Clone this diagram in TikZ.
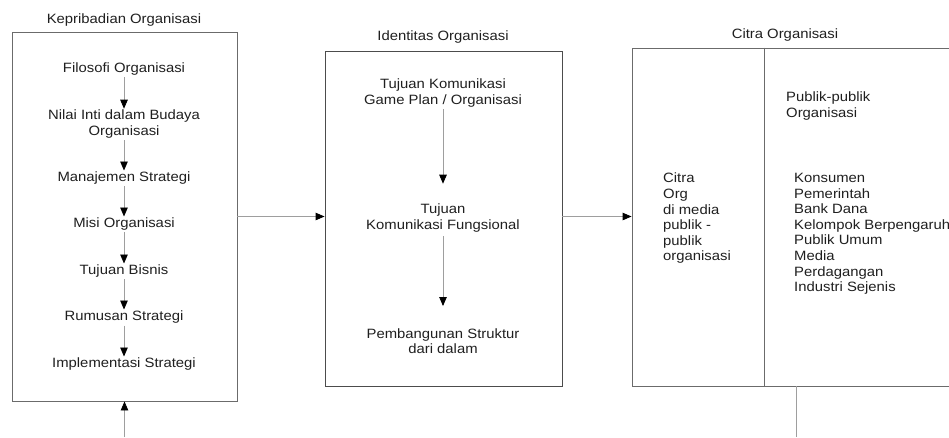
\documentclass[tikz,border=0pt]{standalone}
\usepackage{fontspec}
\setmainfont{Liberation Sans}[FakeStretch=1.1]
\usetikzlibrary{arrows.meta}
\begin{document}
\begin{tikzpicture}[x=1pt,y=-1pt,
  txt/.style={font=\fontsize{13.5}{15.6}\selectfont, inner sep=0pt, align=center, text=black!88},
  ltxt/.style={txt, align=left},
  boxline/.style={draw=black!58, line width=0.9pt, inner sep=0pt},
  conn/.style={draw=black!38, line width=0.9pt},
  arr/.style={conn, -{Triangle[length=9pt,width=7.5pt,color=black]}}]
\useasboundingbox (0,0) rectangle (949,437);

% Box 1
\node[boxline, minimum width=225pt, minimum height=369pt] (box1) at (124.5,216.5) {};
\node[txt] (t1) at (124,20) {Kepribadian Organisasi};
\node[txt] (a1) at (124,69) {Filosofi Organisasi};
\node[txt] (a2) at (124,124) {Nilai Inti dalam Budaya\\Organisasi};
\node[txt] (a3) at (124,178) {Manajemen Strategi};
\node[txt] (a4) at (124,224) {Misi Organisasi};
\node[txt] (a5) at (124,271) {Tujuan Bisnis};
\node[txt] (a6) at (124,317) {Rumusan Strategi};
\node[txt] (a7) at (124,364) {Implementasi Strategi};
\foreach \u/\v in {a1/a2,a2/a3,a3/a4,a4/a5,a5/a6,a6/a7}
  \draw[arr, shorten <=2pt, shorten >=1pt] (\u) -- (\v);
\coordinate (b1) at (124.5,437);
\draw[arr] (b1) -- (box1.south);

% Box 2
\node[boxline, draw=black!70, minimum width=237pt, minimum height=335pt] (box2) at (443.5,218.5) {};
\node[txt] (t2) at (443,37) {Identitas Organisasi};
\node[txt] (c1) at (443,93) {Tujuan Komunikasi\\Game Plan / Organisasi};
\node[txt] (c2) at (443,218) {Tujuan\\Komunikasi Fungsional};
\node[txt] (c3) at (443,341) {Pembangunan Struktur\\dari dalam};
\draw[arr, shorten <=2pt, shorten >=20pt] (c1) -- (c2);
\draw[arr, shorten <=4pt, shorten >=22pt] (c2) -- (c3);

% Box 3
\node[boxline, minimum width=328pt, minimum height=338pt] (box3) at (796,217) {};
\node[txt] (t3) at (785,35) {Citra Organisasi};
\coordinate (dv) at (764,0);
\draw[boxline] (box3.north -| dv) -- (box3.south -| dv);
\node[ltxt, anchor=north west] (e1) at (663,173) {Citra\\Org\\di media\\publik -\\publik\\organisasi};
\node[ltxt, anchor=north west] (e2) at (786,92) {Publik-publik\\Organisasi};
\node[ltxt, anchor=north west] (e3) at (794,173) {Konsumen\\Pemerintah\\Bank Dana\\Kelompok Berpengaruh\\Publik Umum\\Media\\Perdagangan\\Industri Sejenis};
\coordinate (b3) at (796,437);
\draw[conn] (box3.south) -- (b3);

% connectors between boxes
\draw[arr] (box1.east) -- (box1.east -| box2.west);
\draw[arr] (box2.east |- box1.east) -- (box1.east -| box3.west);
\end{tikzpicture}
\end{document}
